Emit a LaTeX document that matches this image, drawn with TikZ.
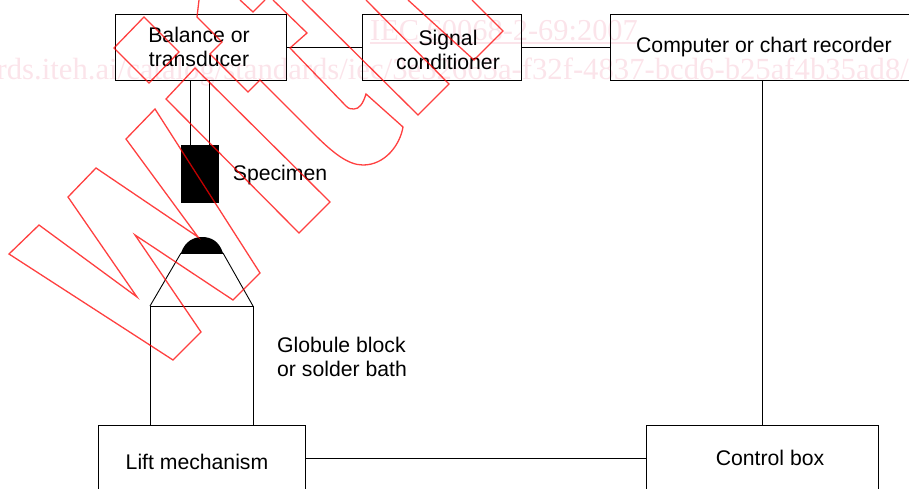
\documentclass[tikz,border=0pt]{standalone}
\usepackage{fontspec}
\setmainfont{Liberation Sans}
\newfontfamily\wmfont{Liberation Serif}
\usetikzlibrary{calc}
\definecolor{wmpink}{HTML}{FBE4EA}
\tikzset{
  x=1pt,y=-1pt,
  boxnode/.style={draw=black,line width=1pt,inner sep=0pt,outer sep=0pt,fill=none},
  conn/.style={draw=black,line width=1pt},
  txt/.style={inner sep=0pt,font=\fontsize{21.2}{24}\selectfont,align=center,text=black},
  wmtext/.style={inner sep=0pt,text=wmpink,font=\wmfont\fontsize{30.4}{30}\selectfont},
  wmline/.style={draw=red,opacity=.75,line width=1.3pt,line join=miter}
}
\begin{document}
\begin{tikzpicture}
\useasboundingbox (0,0) rectangle (909,488);
\clip (0,0) rectangle (909,488);
% pale background print
\node[wmtext,anchor=base west] (wma) at (370,40) {IEC 60068-2-69:2007};
\draw[wmpink,line width=1.2pt] (wma.base west |- 0,43) -- (wma.base east |- 0,43);
\node[wmtext,font=\wmfont\fontsize{30.7}{30}\selectfont,anchor=base east] (wmb) at (909,79) {https://standards.iteh.ai/catalog/standards/iec/3e32665a-f32f-4837-bcd6-b25af4b35ad8/};
% boxes
\node[boxnode,minimum width=171pt,minimum height=66pt] (bal) at (200.5,47) {};
\node[boxnode,minimum width=159pt,minimum height=66pt] (sig) at (441.5,47) {};
\node[boxnode,minimum width=320pt,minimum height=66pt] (comp) at (770,47) {};
\node[boxnode,minimum width=207pt,minimum height=66pt] (lift) at (201.5,458) {};
\node[boxnode,minimum width=232pt,minimum height=66pt] (ctl) at (762,458) {};
\node[boxnode,minimum width=103pt,minimum height=119pt] (block) at (201.5,365.5) {};
\node[draw=none,fill=black,inner sep=0pt,minimum width=38pt,minimum height=58pt] (spec) at (200,174) {};
% globule
\coordinate (domeL) at (181,253);
\coordinate (domeR) at (223,253);
\fill[black] (domeL) .. controls (185,241) and (194,237) .. (202,237) .. controls (211,237) and (219,241) .. (223,253) -- cycle;
\draw[conn] (domeL) -- (domeR);
\draw[conn,line width=.9pt] (domeL) -- (block.north west);
\draw[conn,line width=.9pt] (domeR) -- (block.north east);
% connectors
\draw[conn] (bal) -- (sig);
\draw[conn] (sig) -- (comp);
\draw[conn] (lift) -- (ctl);
\draw[conn] (comp.south -| ctl) -- (ctl.north);
\draw[conn] ([xshift=10pt]spec.north west) -- ([xshift=10pt]spec.north west |- bal.south);
\draw[conn] ([xshift=-10pt]spec.north east) -- ([xshift=-10pt]spec.north east |- bal.south);
% labels
\node[txt] (tbal) at (199,47) {Balance or\\transducer};
\node[txt] (tsig) at (448,50) {Signal\\conditioner};
\node[txt] (tcomp) at (764,47.5) {Computer or chart recorder};
\node[txt] (tspec) at (280,175) {Specimen};
\node[txt,align=left,anchor=west] (tglob) at (277,356.5) {Globule block\\or solder bath};
\node[txt] (tlift) at (197,461.5) {Lift mechanism};
\node[txt] (tctl) at (770,458) {Control box};
% stamp outlines
\draw[wmline] (9,254) -- (39,225) -- (137,297) -- (68,197) -- (96,168) -- (198,237) -- (126,139) -- (155,109) -- (260,273) -- (233,300) -- (135,235) -- (201,332) -- (173,360) -- cycle;
\draw[wmline] (114,48) -- (144,17) -- (179,52) -- (149,83) -- cycle;
\draw[wmline] (166,99) -- (195,68) -- (330,202) -- (299,233) -- cycle;
\draw[wmline] (199,0) -- (197,17) -- (222,42) -- (210,54) -- (248,92) -- (260,80) -- (313,133) .. controls (333,153) and (348,165) .. (363,165) .. controls (385,165) and (400,145) .. (403,127) -- (366,94) .. controls (363,104) and (359,109) .. (354,109) .. controls (351,109) and (349,109) .. (346,106) -- (290,48) -- (307,33) -- (273,0);
\draw[wmline] (240,0) -- (253,12) -- (265,0);
\draw[wmline] (302,0) -- (418,115) -- (449,84) -- (366,0);
\draw[wmline] (408,0) -- (474,60) -- (503,31) -- (472,0);
\end{tikzpicture}
\end{document}
